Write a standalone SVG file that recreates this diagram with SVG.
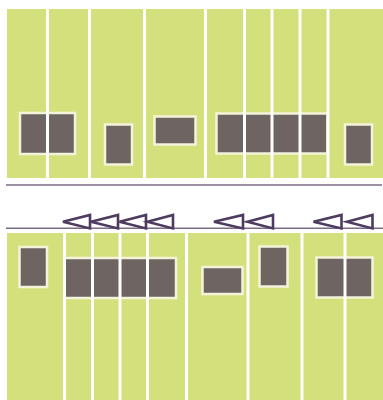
<svg xmlns="http://www.w3.org/2000/svg" width="383" height="400" viewBox="0 0 383 400">
<style>
.bg{fill:#d4e07c}
.box{fill:#6e6461;stroke:#f3f3da;stroke-width:2.5}
.div{stroke:#ffffff;stroke-width:3}
.rule{stroke:#7b6c86;stroke-width:1.6}
.arr{fill:none;stroke:#4e3b5f;stroke-width:2.6;stroke-linejoin:miter}
</style>
<rect width="383" height="400" fill="#ffffff"/>
<g id="top">
<rect class="bg" x="7" y="9" width="376" height="169"/>
<rect class="box" x="20" y="113" width="55" height="41"/>
<rect class="box" x="105" y="124.5" width="27" height="40"/>
<rect class="box" x="154.5" y="116.5" width="41" height="28"/>
<rect class="box" x="216.5" y="113.5" width="111" height="40"/>
<rect class="box" x="345" y="124.5" width="27" height="40"/>
<g class="div">
<line x1="47.5" y1="9" x2="47.5" y2="178"/>
<line x1="89.5" y1="9" x2="89.5" y2="178"/>
<line x1="144.5" y1="9" x2="144.5" y2="178"/>
<line x1="205.5" y1="9" x2="205.5" y2="178"/>
<line x1="244.5" y1="9" x2="244.5" y2="178"/>
<line x1="272" y1="9" x2="272" y2="178"/>
<line x1="300" y1="9" x2="300" y2="178"/>
<line x1="328" y1="9" x2="328" y2="178"/>
</g>
</g>
<g id="bottom">
<rect class="bg" x="7" y="233" width="376" height="167"/>
<rect class="box" x="19.5" y="247" width="27.5" height="40"/>
<rect class="box" x="64.5" y="258" width="111.5" height="40"/>
<rect class="box" x="202.5" y="267" width="40" height="27"/>
<rect class="box" x="259.5" y="246.5" width="28" height="40"/>
<rect class="box" x="316.5" y="257.5" width="56" height="40"/>
<g class="div">
<line x1="64.5" y1="233" x2="64.5" y2="400"/>
<line x1="92.5" y1="233" x2="92.5" y2="400"/>
<line x1="120" y1="233" x2="120" y2="400"/>
<line x1="147.5" y1="233" x2="147.5" y2="400"/>
<line x1="186.5" y1="233" x2="186.5" y2="400"/>
<line x1="248" y1="233" x2="248" y2="400"/>
<line x1="302" y1="233" x2="302" y2="400"/>
<line x1="345" y1="233" x2="345" y2="400"/>
</g>
</g>
<g id="connectors">
<line class="rule" x1="6" y1="185" x2="382" y2="185"/>
<line class="rule" x1="6" y1="228.3" x2="383" y2="228.3"/>
<g class="arr">
<polygon points="63,221.7 90,215 90,228.4"/>
<polygon points="91,221.7 118,215 118,228.4"/>
<polygon points="119.5,221.7 146,215 146,228.4"/>
<polygon points="147.5,221.7 173,215 173,228.4"/>
<polygon points="214,221.7 243,215 243,228.4"/>
<polygon points="247.5,221.7 273,215 273,228.4"/>
<polygon points="313.5,221.7 341.5,215 341.5,228.4"/>
<polygon points="347,221.7 372.5,215 372.5,228.4"/>
</g>
</g>
</svg>
